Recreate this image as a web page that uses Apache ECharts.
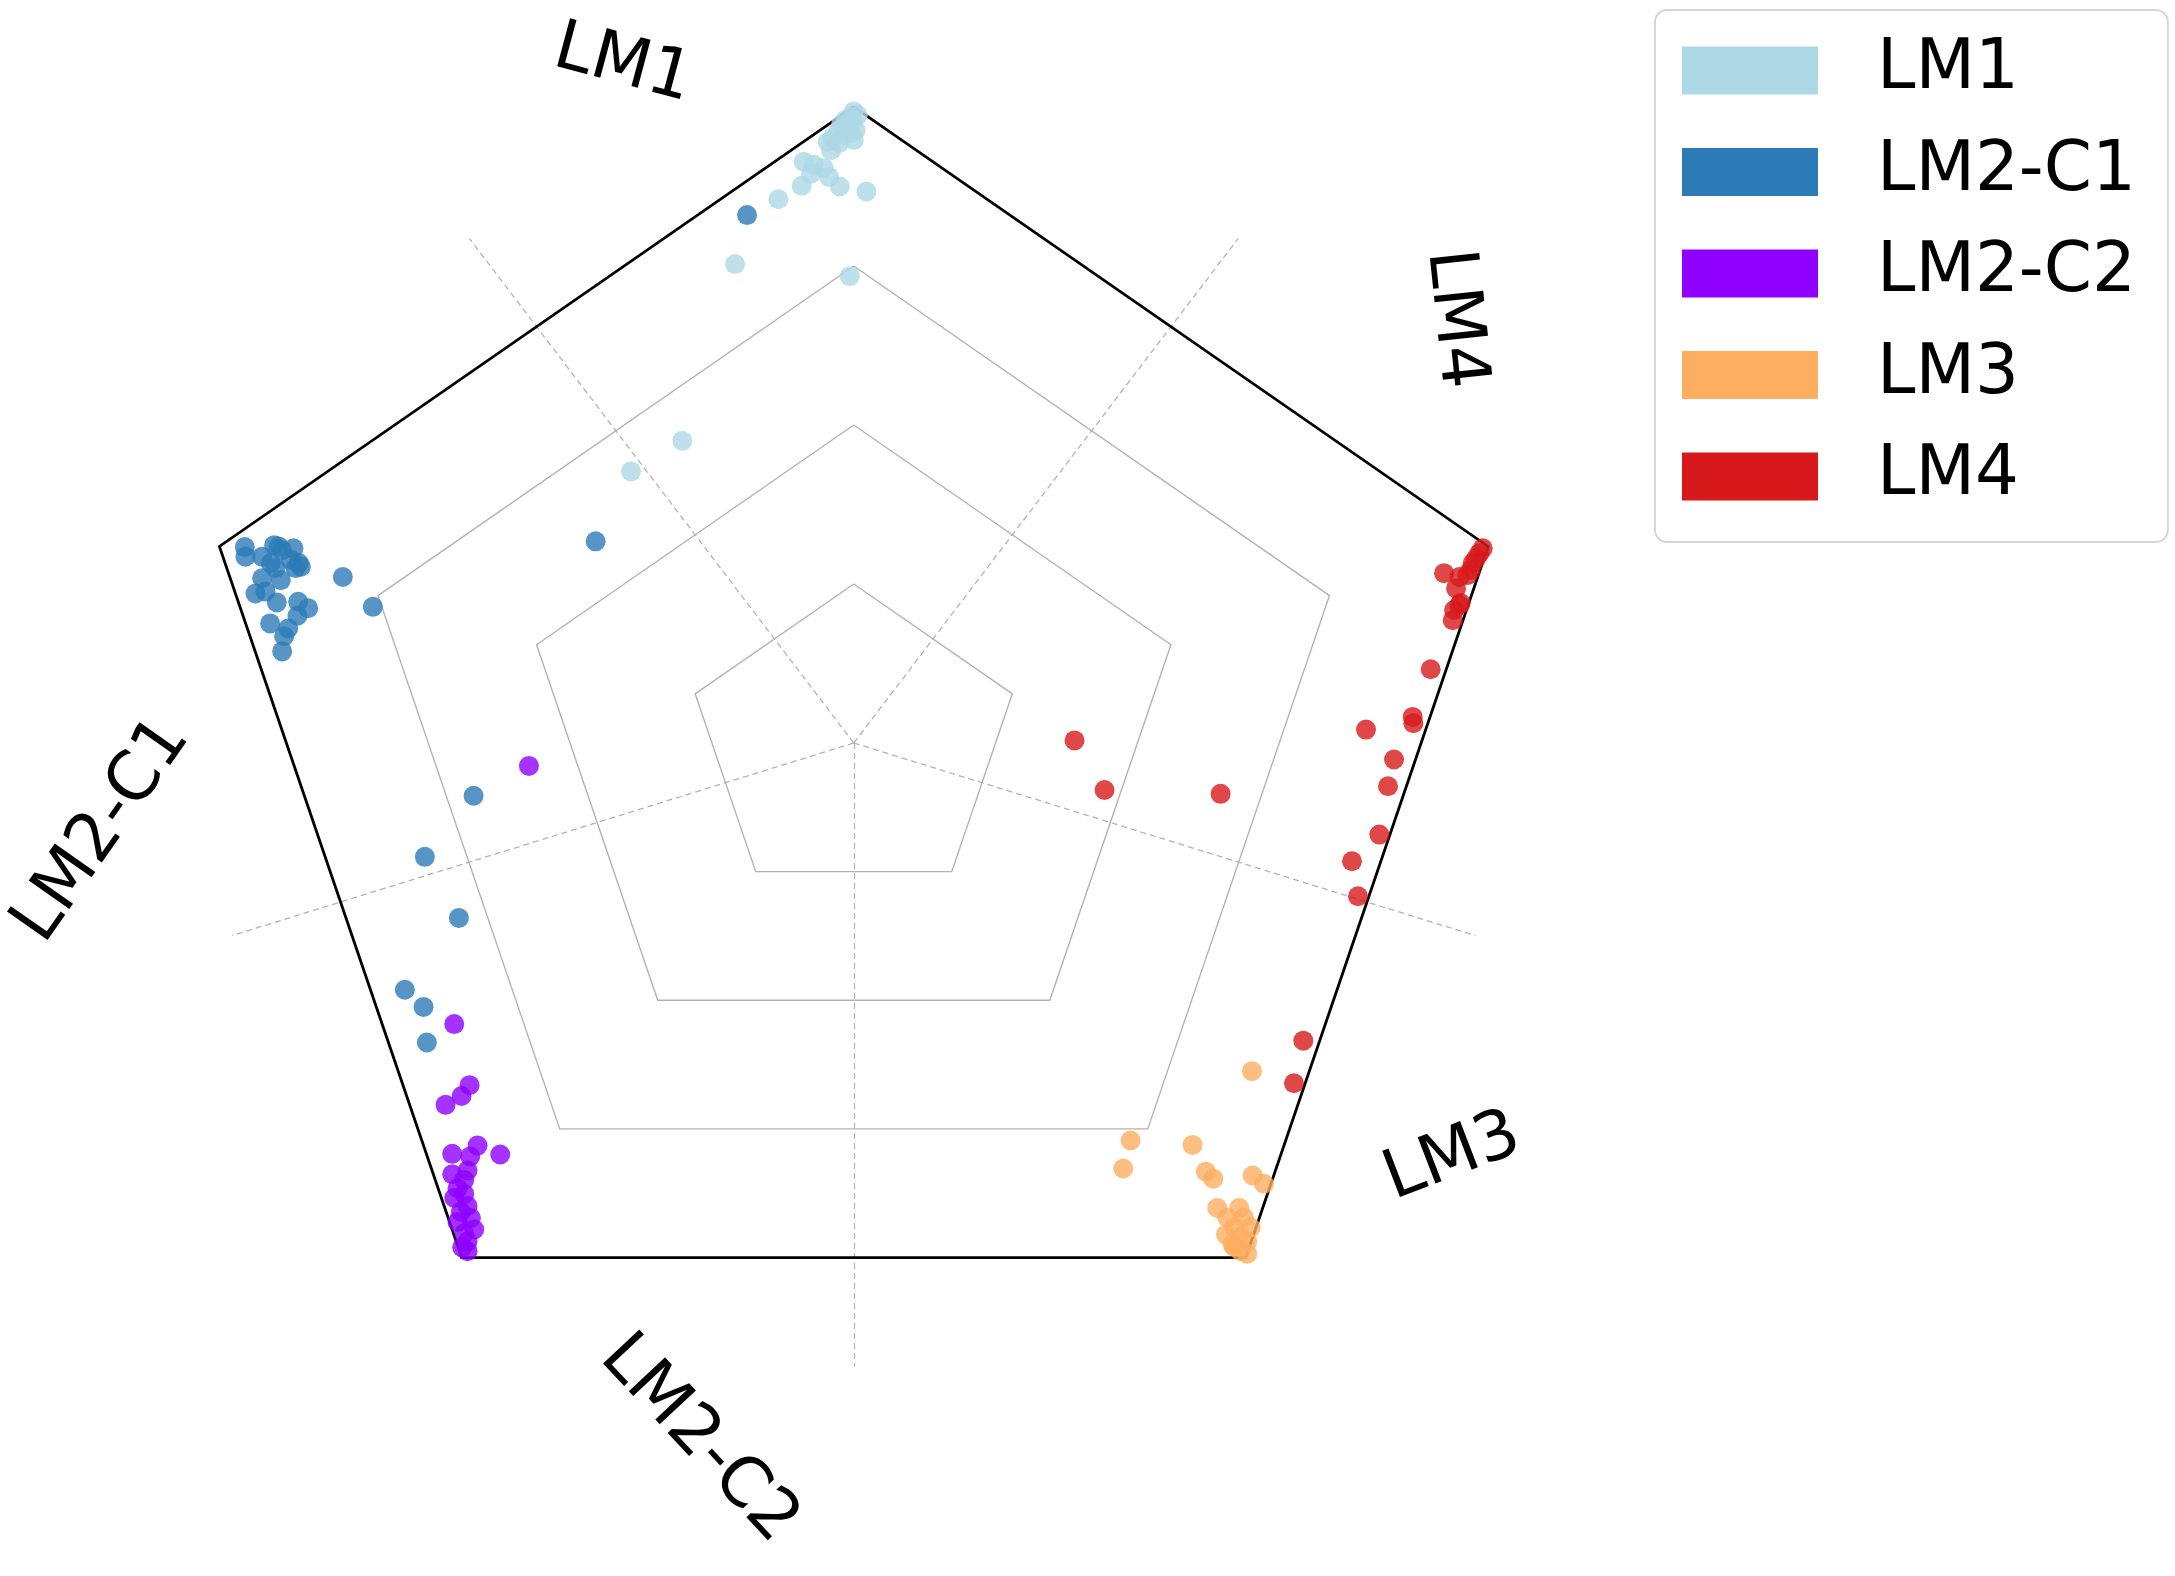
<!DOCTYPE html>
<html>
<head>
<meta charset="utf-8">
<script src="https://cdn.jsdelivr.net/npm/echarts@6/dist/echarts.min.js"></script>
<style>
html, body { margin: 0; padding: 0; background: #fff; }
#chart { width: 2175px; height: 1576px; }
</style>
</head>
<body>
<div id="chart"></div>
<script>
// anchors of the radviz, going round the pentagon
const axisNames = ['LM1', 'LM4', 'LM3', 'LM2-C2', 'LM2-C1'];
const axisAngles = [90, 18, -54, -126, 162];
const ringLevels = [0.25, 0.5, 0.75];
const spokeAngles = [126, 54, -18, -90, 198];
const spokeLength = 0.98;
const labelAngles = [108, 36.5, -36, -102, 187];
const labelRadius = [1.12, 1.12, 1.11, 1.12, 1.135];
const labelRotate = [-15, -84, 21, -47, 55];

const classNames = ['LM1', 'LM2-C1', 'LM2-C2', 'LM3', 'LM4'];
const classColors = ['#add8e6', '#2c7bb6', '#8f00ff', '#fdae61', '#d7191c'];

// projected points [x, y]
const lm1 = [[0.000,0.993],[-0.004,0.985],[0.006,0.987],[-0.012,0.980],[-0.002,0.974],[-0.019,0.972],[-0.009,0.966],[0.003,0.964],[-0.024,0.961],[-0.015,0.956],[-0.032,0.951],[-0.004,0.959],[-0.039,0.945],[-0.022,0.943],[-0.034,0.932],[0.000,0.948],[-0.075,0.914],[-0.060,0.909],[-0.064,0.895],[-0.045,0.904],[-0.037,0.890],[-0.078,0.876],[-0.021,0.875],[0.019,0.867],[-0.113,0.855],[-0.178,0.753],[-0.006,0.734],[-0.257,0.475],[-0.334,0.427]];
const lm2c1 = [[-0.160,0.830],[-0.387,0.317],[-0.913,0.308],[-0.912,0.293],[-0.887,0.293],[-0.869,0.311],[-0.862,0.309],[-0.857,0.303],[-0.840,0.306],[-0.874,0.283],[-0.867,0.275],[-0.844,0.288],[-0.832,0.283],[-0.829,0.277],[-0.837,0.275],[-0.887,0.259],[-0.859,0.256],[-0.897,0.235],[-0.882,0.238],[-0.865,0.221],[-0.833,0.222],[-0.818,0.212],[-0.834,0.200],[-0.875,0.188],[-0.848,0.180],[-0.854,0.168],[-0.857,0.144],[-0.766,0.261],[-0.721,0.214],[-0.570,-0.083],[-0.643,-0.179],[-0.592,-0.275],[-0.673,-0.388],[-0.645,-0.415],[-0.640,-0.471]];
const lm2c2 = [[-0.487,-0.036],[-0.599,-0.442],[-0.576,-0.538],[-0.588,-0.555],[-0.612,-0.569],[-0.564,-0.633],[-0.602,-0.646],[-0.530,-0.647],[-0.575,-0.650],[-0.579,-0.672],[-0.602,-0.678],[-0.584,-0.687],[-0.594,-0.700],[-0.584,-0.709],[-0.599,-0.715],[-0.579,-0.728],[-0.589,-0.737],[-0.574,-0.747],[-0.594,-0.753],[-0.569,-0.765],[-0.584,-0.771],[-0.579,-0.784],[-0.587,-0.793],[-0.579,-0.799]];
const lm3 = [[0.597,-0.516],[0.415,-0.625],[0.404,-0.669],[0.508,-0.632],[0.528,-0.674],[0.539,-0.685],[0.598,-0.680],[0.615,-0.693],[0.545,-0.731],[0.578,-0.731],[0.560,-0.746],[0.585,-0.746],[0.570,-0.762],[0.595,-0.762],[0.558,-0.773],[0.580,-0.777],[0.590,-0.784],[0.568,-0.788],[0.580,-0.799],[0.590,-0.803],[0.570,-0.792]];
const lm4 = [[0.943,0.306],[0.938,0.298],[0.933,0.290],[0.928,0.283],[0.925,0.272],[0.920,0.264],[0.885,0.267],[0.908,0.261],[0.903,0.243],[0.910,0.220],[0.900,0.209],[0.898,0.193],[0.908,0.217],[0.865,0.116],[0.838,0.041],[0.839,0.031],[0.768,0.021],[0.810,-0.026],[0.801,-0.068],[0.788,-0.144],[0.747,-0.186],[0.756,-0.241],[0.674,-0.468],[0.660,-0.535],[0.550,-0.080],[0.376,-0.074],[0.331,0.004]];
const classPoints = [lm1, lm2c1, lm2c2, lm3, lm4];

const rad = (d) => d * Math.PI / 180;
const polar = (r, a) => [r * Math.cos(rad(a)), r * Math.sin(rad(a))];
function ring(r) {
    const pts = axisAngles.map((a) => polar(r, a));
    pts.push(pts[0]);
    return pts;
}

const chart = echarts.init(document.getElementById('chart'));
const font = 'DejaVu Sans';

const series = [
    {
        name: 'rings',
        type: 'lines',
        coordinateSystem: 'cartesian2d',
        polyline: true,
        silent: true,
        z: 1,
        data: ringLevels.map((r) => ({ coords: ring(r) })),
        lineStyle: { color: '#b3b3b3', width: 1.4, opacity: 1 },
    },
    {
        name: 'spokes',
        type: 'lines',
        coordinateSystem: 'cartesian2d',
        silent: true,
        z: 1,
        data: spokeAngles.map((a) => ({ coords: [[0, 0], polar(spokeLength, a)] })),
        lineStyle: { color: '#b3b3b3', width: 1.3, type: [6, 4], opacity: 1 },
    },
    {
        name: 'frame',
        type: 'lines',
        coordinateSystem: 'cartesian2d',
        polyline: true,
        silent: true,
        z: 2,
        data: [{ coords: ring(1) }],
        lineStyle: { color: '#000', width: 2.8, opacity: 1 },
    },
];

classNames.forEach((name, i) => {
    series.push({
        name: name,
        type: 'scatter',
        z: 3,
        symbolSize: 20,
        data: classPoints[i],
        itemStyle: { color: classColors[i], opacity: 0.8 },
    });
});

// anchor labels
series.push({
    name: 'labels',
    type: 'scatter',
    z: 4,
    silent: true,
    symbolSize: 1,
    itemStyle: { color: 'rgba(0,0,0,0)', opacity: 1 },
    data: axisNames.map((n, i) => ({
        name: n,
        value: polar(labelRadius[i], labelAngles[i]),
        label: { rotate: labelRotate[i] },
    })),
    label: {
        show: true,
        position: 'inside',
        formatter: '{b}',
        color: '#000',
        opacity: 1,
        textBorderWidth: 0,
        fontFamily: font,
        fontSize: 68,
        align: 'center',
        verticalAlign: 'middle',
    },
});

const option = {
    animation: false,
    backgroundColor: '#fff',
    grid: { left: 0, width: 1707.5, top: 5.2, height: 1564.6 },
    xAxis: { type: 'value', min: -1.28, max: 1.28, show: false },
    yAxis: { type: 'value', min: -1.3, max: 1.16, show: false },
    legend: {
        data: classNames,
        orient: 'vertical',
        left: 1655,
        top: 10,
        padding: [26, 32, 31, 27],
        itemWidth: 136,
        itemHeight: 48,
        itemGap: 32.5,
        icon: 'rect',
        itemStyle: { opacity: 1 },
        borderColor: '#d6d6d6',
        borderWidth: 2,
        borderRadius: 12,
        backgroundColor: '#fff',
        selectedMode: false,
        textStyle: {
            fontFamily: font,
            fontSize: 69,
            color: '#000',
            lineHeight: 48,
            padding: [0, 0, 0, 54],
        },
    },
    series: series,
};

chart.setOption(option);
</script>
</body>
</html>
